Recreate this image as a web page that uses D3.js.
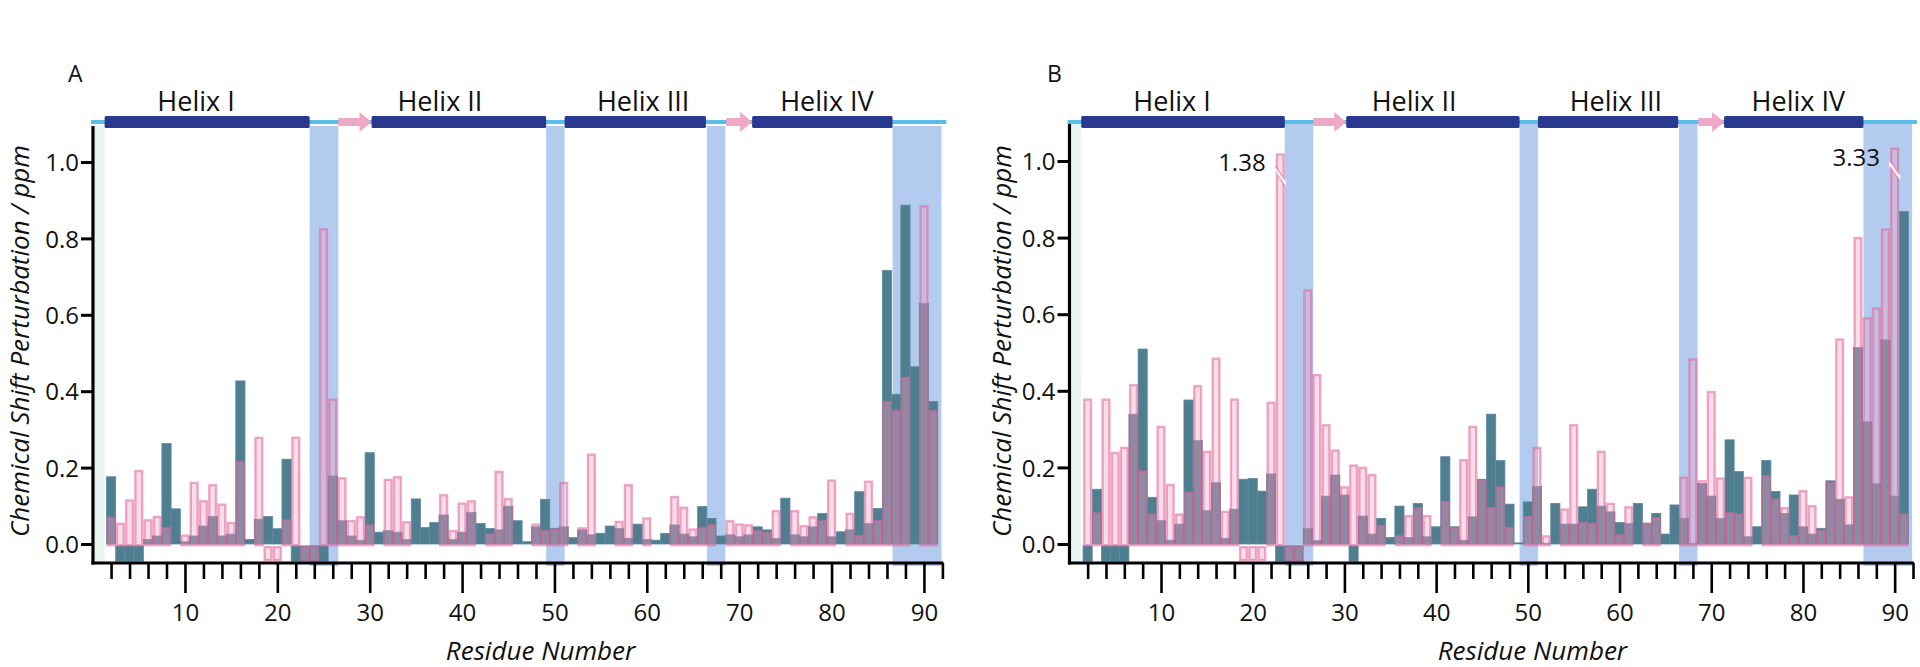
<!DOCTYPE html>
<html><head><meta charset="utf-8">
<script src="https://cdn.jsdelivr.net/npm/d3@7"></script>
<style>
html,body{margin:0;padding:0;background:#fff;}
svg{display:block;}
text{font-family:"Open Sans","Noto Sans",sans-serif;fill:#111;}
</style></head>
<body>
<svg id="chart" width="1920" height="667"></svg>
<script>
// ---------------- data ----------------
const residues = d3.range(1, 92);
// Panel A (null = no bar)
const tealA = [null,0.176,null,null,null,0.012,0.021,0.263,0.092,0.006,
 0.021,0.047,0.072,0.021,0.026,0.427,0.012,0.065,0.072,0.040,
 0.222,null,null,null,null,0.178,0.061,0.021,0.010,0.239,
 0.031,0.035,0.031,0.012,0.118,0.043,0.056,0.076,0.012,0.031,
 0.083,0.054,0.041,0.037,0.099,0.061,0.006,0.045,0.117,0.041,
 0.045,0.017,0.037,0.024,0.028,0.047,0.041,0.015,0.052,0.012,
 0.010,0.028,0.050,0.026,0.019,0.098,0.067,0.021,0.024,0.019,
 0.024,0.045,0.037,0.015,0.120,0.024,0.019,0.045,0.080,0.019,
 0.032,0.037,0.137,0.054,0.093,0.716,0.392,0.887,0.464,0.630,0.373];
const pinkA = [null,0.072,0.056,0.117,0.194,0.065,0.074,0.045,null,0.025,
 0.163,0.115,0.157,0.106,0.058,0.218,null,0.281,null,null,
 0.065,0.281,null,null,0.827,0.381,0.175,0.063,0.073,0.052,
 null,0.171,0.178,0.060,null,null,null,0.131,0.037,0.109,
 0.115,null,0.028,0.192,0.121,null,null,0.054,0.037,0.041,
 0.163,null,0.044,0.237,null,null,0.061,0.157,null,0.070,
 null,null,0.126,0.098,0.041,0.045,0.052,null,0.063,0.054,
 0.052,0.037,0.032,0.089,null,0.089,0.050,0.073,0.063,0.169,
 null,0.082,0.024,0.166,0.063,0.375,0.351,0.438,null,0.887,0.351];
const tealMissingA = [3,4,5,22,23,24,25];
const pinkMissingA = [19,20,23,24];
// Panel B
const tealB = [null,null,0.143,null,null,null,0.339,0.509,0.122,0.061,
 0.010,0.052,0.376,0.270,0.087,0.160,0.015,0.091,0.169,0.171,
 0.138,0.183,null,null,null,0.041,0.009,0.125,0.180,0.128,
 null,0.073,0.026,0.067,0.017,0.099,0.017,0.106,0.019,0.045,
 0.228,0.045,0.010,0.071,0.169,0.339,0.218,0.104,0.003,0.110,
 0.150,0.002,0.106,0.052,0.052,0.097,0.143,0.099,0.084,0.056,
 0.054,0.106,0.054,0.080,0.026,0.102,0.067,0.002,0.158,0.125,
 0.067,0.272,0.189,0.019,0.045,0.218,0.137,0.080,0.128,0.045,
 0.026,0.041,0.165,0.117,0.050,0.513,0.319,0.158,0.533,0.125,0.868];
const pinkB = [null,0.380,0.084,0.380,0.241,0.254,0.418,0.193,0.080,0.309,
 0.157,0.080,0.137,0.415,0.244,0.487,0.087,0.380,null,null,
 null,0.372,1.38,null,null,0.665,0.444,0.313,0.247,0.151,
 0.208,0.202,0.183,0.050,null,0.023,0.076,0.097,0.076,null,
 0.113,0.045,0.222,0.309,0.169,0.097,0.151,0.045,null,0.073,
 0.254,0.023,null,0.093,0.313,0.058,0.056,0.244,0.108,0.026,
 0.099,null,0.056,0.071,null,null,0.176,0.485,0.167,0.400,
 0.174,0.084,0.080,0.176,null,0.180,0.119,0.097,0.023,0.141,
 0.102,0.038,0.163,0.537,0.125,0.802,0.592,0.618,0.824,3.33,0.080];
const tealMissingB = [2,4,5,6,23,24,25,31];
const pinkMissingB = [19,20,21,24,25];
// off-scale bars drawn broken, with their real value printed
const brokenB = [{res:23, value:1.38, shown:1.02}, {res:90, value:3.33, shown:1.035}];
const brokenA = [];
// secondary structure (residue units)
const helixNames = ["Helix I","Helix II","Helix III","Helix IV"];
const helixStart = [1.3, 30.2, 51.1, 71.4];
const helixEnd   = [23.5, 49.1, 66.4, 86.6];
const helixLabelAt = [11.2, 37.6, 59.6, 79.5];
const strandStart = [26.6, 68.6];
const strandEnd   = [30.2, 71.4];
const shadedStart = [23.5, 49.1, 66.5, 86.6];
const shadedEnd   = [26.6, 51.1, 68.5, 91.9];
const yTicks = [0, 0.2, 0.4, 0.6, 0.8, 1.0];
const xMajor = [10,20,30,40,50,60,70,80,90];

// ---------------- drawing ----------------
const svg = d3.select("#chart");
const C = {
  teal:"#4f7f8f", tealStroke:"#5b8aa6",
  pinkFill:"rgba(239,166,196,0.37)", pinkStroke:"rgba(224,100,155,0.55)",
  shade:"#b3cbef", mint:"#e8f5f0",
  navy:"#28398f", light:"#5cbde9", arrow:"#efa9c6"
};

const panels = [
  {letter:"A", lx:68, axisX:93, x0:92.6, x1:942.4, yTop:126, y0:544, y1:162,
   teal:tealA, pink:pinkA, tm:tealMissingA, pm:pinkMissingA, broken:brokenA,
   ylabX:29, xlabRes:48.5},
  {letter:"B", lx:1047, axisX:1069.5, x0:1069.3, x1:1913, yTop:124, y0:544, y1:161,
   teal:tealB, pink:pinkB, tm:tealMissingB, pm:pinkMissingB, broken:brokenB,
   ylabX:1011, xlabRes:50.5}
];

panels.forEach(P => {
  const g = svg.append("g");
  const x = d3.scaleLinear().domain([0,92]).range([P.x0, P.x1]);
  const y = d3.scaleLinear().domain([0,1]).range([P.y0, P.y1]);
  const bw = x(1) - x(0);
  const axisY = 563;
  const ssY = 122;

  // mint strip next to axis
  g.append("rect").attr("x", x(0.25)).attr("width", x(1.3)-x(0.25))
    .attr("y", P.yTop).attr("height", axisY - P.yTop).attr("fill", C.mint);
  // shaded loop regions
  g.selectAll(".shade").data(d3.range(shadedStart.length)).join("rect")
    .attr("x", i => x(shadedStart[i])).attr("width", i => x(shadedEnd[i]) - x(shadedStart[i]))
    .attr("y", P.yTop).attr("height", 566 - P.yTop).attr("fill", C.shade);

  // missing-residue markers below zero
  const mTop = y(-0.005), mBot = y(-0.045);
  g.selectAll(".tm").data(P.tm).join("rect")
    .attr("x", r => x(r-0.5)).attr("width", bw).attr("y", mTop).attr("height", mBot-mTop)
    .attr("fill", C.teal).attr("stroke", C.tealStroke).attr("stroke-width", 0.8);
  g.selectAll(".pm").data(P.pm).join("rect")
    .attr("x", r => x(r-0.5)+1.2).attr("width", bw-2.4).attr("y", mTop+1.2).attr("height", mBot-mTop-2.4)
    .attr("fill", C.pinkFill).attr("stroke", C.pinkStroke).attr("stroke-width", 2.4);

  // bars
  const brokenShown = {};
  P.broken.forEach(b => brokenShown[b.res] = b.shown);
  const tealData = residues.map((r,i) => ({r, v:P.teal[i]})).filter(d => d.v !== null);
  const pinkData = residues.map((r,i) => ({r, v:P.pink[i]})).filter(d => d.v !== null)
      .map(d => ({r:d.r, v: brokenShown[d.r] !== undefined ? brokenShown[d.r] : d.v}));

  g.selectAll(".tb").data(tealData).join("rect")
    .attr("x", d => x(d.r-0.5)).attr("width", bw)
    .attr("y", d => y(d.v)).attr("height", d => y(0) - y(d.v))
    .attr("fill", C.teal).attr("stroke", C.tealStroke).attr("stroke-width", 0.8);
  g.selectAll(".pb").data(pinkData).join("rect")
    .attr("x", d => x(d.r-0.5)+1.2).attr("width", bw-2.4)
    .attr("y", d => y(d.v)+1.2).attr("height", d => Math.max(0, y(0) - y(d.v)))
    .attr("fill", C.pinkFill).attr("stroke", C.pinkStroke).attr("stroke-width", 2.4);

  // break marks and value labels
  P.broken.forEach(b => {
    const xl = x(b.res-0.5), xr = x(b.res+0.5);
    const yb = y(b.shown - 0.07);
    g.append("polygon")
      .attr("points", `${xl-1},${yb-14} ${xr+1},${yb} ${xr+1},${yb+6} ${xl-1},${yb-8}`)
      .attr("fill", "#fff");
    g.append("line").attr("x1", xl).attr("y1", yb-14).attr("x2", xr).attr("y2", yb)
      .attr("stroke", C.pinkStroke).attr("stroke-width", 1.6);
    g.append("line").attr("x1", xl).attr("y1", yb-8).attr("x2", xr).attr("y2", yb+6)
      .attr("stroke", C.pinkStroke).attr("stroke-width", 1.6);
    g.append("text").attr("x", xl - 10).attr("y", y(b.shown) + 18)
      .attr("text-anchor", "end").style("font-size", "24px").text(b.value.toFixed(2));
  });

  // axes
  const ya = d3.axisLeft(y).tickValues(yTicks).tickFormat(d3.format(".1f")).tickSize(12).tickSizeOuter(0);
  const yg = g.append("g").attr("transform", `translate(${P.axisX},0)`).call(ya);
  yg.select(".domain").remove();
  yg.selectAll(".tick line").attr("stroke", "#000").attr("stroke-width", 3);
  yg.selectAll(".tick text").attr("x", -14).style("font-size", "24px").attr("dy", "0.36em").attr("fill", "#111");
  g.append("line").attr("x1", P.axisX).attr("x2", P.axisX).attr("y1", P.yTop).attr("y2", axisY+1.5)
    .attr("stroke", "#000").attr("stroke-width", 3.2);

  const xa = d3.axisBottom(x).tickValues(d3.range(2, 93, 2))
    .tickFormat(d => xMajor.includes(d) ? d : "").tickSize(16).tickSizeOuter(0);
  const xg = g.append("g").attr("transform", `translate(0,${axisY})`).call(xa);
  xg.select(".domain").remove();
  xg.selectAll(".tick line").attr("stroke", "#000").attr("stroke-width", 2.6)
    .attr("y2", d => xMajor.includes(d) ? 30 : 16);
  xg.selectAll(".tick text").attr("y", 41).style("font-size", "24px").attr("dy", "0.71em").attr("fill", "#111");
  g.append("line").attr("x1", P.axisX - 1.5).attr("x2", P.x1 + 1).attr("y1", axisY).attr("y2", axisY)
    .attr("stroke", "#000").attr("stroke-width", 3.2);

  // secondary structure
  g.append("line").attr("x1", P.axisX - 2).attr("x2", P.x1 + 4).attr("y1", ssY).attr("y2", ssY)
    .attr("stroke", C.light).attr("stroke-width", 4);
  g.selectAll(".helix").data(d3.range(helixStart.length)).join("rect")
    .attr("x", i => x(helixStart[i])).attr("width", i => x(helixEnd[i]) - x(helixStart[i]))
    .attr("y", ssY - 6).attr("height", 12).attr("rx", 1.5).attr("fill", C.navy);
  g.selectAll(".strand").data(d3.range(strandStart.length)).join("polygon")
    .attr("points", i => {
      const a = x(strandStart[i]), b = x(strandEnd[i]), h = b - 12;
      return `${a},${ssY-4} ${h},${ssY-4} ${h},${ssY-10} ${b},${ssY} ${h},${ssY+10} ${h},${ssY+4} ${a},${ssY+4}`;
    }).attr("fill", C.arrow);
  g.selectAll(".hl").data(d3.range(helixNames.length)).join("text")
    .attr("x", i => x(helixLabelAt[i])).attr("y", 111).attr("text-anchor", "middle")
    .style("font-size", "27px").text(i => helixNames[i]);

  // titles
  g.append("text").attr("x", P.lx).attr("y", 82).style("font-size", "23px").text(P.letter);
  g.append("text").attr("transform", `translate(${P.ylabX},341) rotate(-90)`)
    .attr("text-anchor", "middle").style("font-size", "26px").style("font-style", "italic")
    .text("Chemical Shift Perturbation / ppm");
  g.append("text").attr("x", x(P.xlabRes)).attr("y", 660).attr("text-anchor", "middle")
    .style("font-size", "26px").style("font-style", "italic").text("Residue Number");
});
</script>
</body></html>
